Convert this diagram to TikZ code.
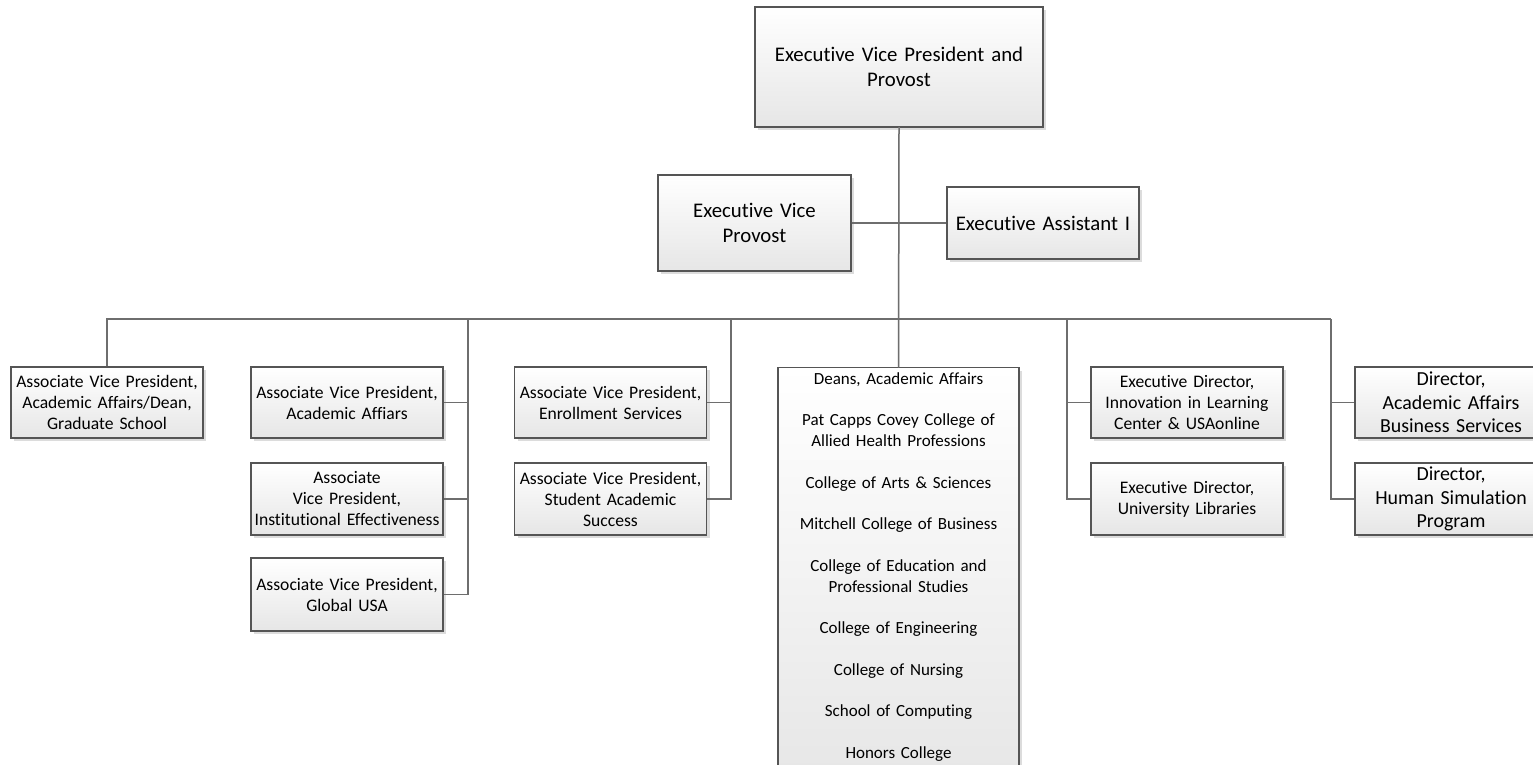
\documentclass[tikz,border=0pt]{standalone}
\usepackage{fontspec}
\setmainfont[Ligatures=NoCommon]{Carlito}
\usetikzlibrary{shadows}
\definecolor{bordc}{HTML}{555555}
\definecolor{linec}{HTML}{6E6E6E}
\definecolor{shadc}{HTML}{DCDCDC}
\definecolor{botc}{HTML}{E6E6E6}
\tikzset{
  box/.style={rectangle, draw=bordc, line width=1.2pt, top color=white, bottom color=botc,
    drop shadow={shadow xshift=3pt, shadow yshift=-3pt, fill=shadc, opacity=1},
    inner sep=2pt, align=center, minimum width=192pt, minimum height=71pt, text width=188pt,
    font=\fontsize{17.6}{21}\selectfont},
  bigtext/.style={font=\fontsize{20.8}{25}\selectfont},
  dirtext/.style={font=\fontsize{19.9}{23.5}\selectfont},
  conn/.style={draw=linec, line width=1.5pt},
  connshadow/.style={draw=shadc, line width=1.5pt}
}
\begin{document}
\begin{tikzpicture}[x=1pt,y=-1pt]
\useasboundingbox (0,0) rectangle (1533,765);
\clip (0,0) rectangle (1533,765);

% boxes
\node[box, bigtext, minimum width=288pt, minimum height=120pt, text width=282pt] (top) at (899,67) {Executive Vice President and\\Provost};
\node[box, bigtext, minimum width=193pt, minimum height=96pt] (evp) at (754.5,223) {Executive Vice\\Provost};
\node[box, bigtext, minimum height=72pt] (ea) at (1043,223) {Executive Assistant I};

\node[box] (b1) at (107,402.5) {Associate Vice President,\\Academic Affairs/Dean,\\Graduate School};
\node[box] (b2) at (347,402.5) {Associate Vice President,\\Academic Affiars};
\node[box, minimum height=72pt] (b3) at (347,499) {Associate\\Vice President,\\Institutional Effectiveness};
\node[box, minimum height=73pt] (b4) at (347,594.5) {Associate Vice President,\\Global USA};
\node[box] (b5) at (610.5,402.5) {Associate Vice President,\\Enrollment Services};
\node[box, minimum height=72pt] (b6) at (610.5,499) {Associate Vice President,\\Student Academic\\Success};

\node[box, anchor=north, inner sep=0pt, minimum width=241pt, text width=241pt,
      font=\fontsize{17}{20.8}\selectfont] (deans) at (898.5,367)
  {\begin{minipage}[t][420pt][t]{241pt}\centering
   \rule{0pt}{16.5pt}Deans, Academic Affairs\\[20.8pt]
   Pat Capps Covey College of\\Allied Health Professions\\[20.8pt]
   College of Arts \& Sciences\\[20.8pt]
   Mitchell College of Business\\[20.8pt]
   College of Education and\\Professional Studies\\[20.8pt]
   College of Engineering\\[20.8pt]
   College of Nursing\\[20.8pt]
   School of Computing\\[20.8pt]
   Honors College
   \end{minipage}};

\node[box] (b7) at (1187,402.5) {Executive Director,\\Innovation in Learning\\Center \& USAonline};
\node[box, minimum height=72pt] (b8) at (1187,499) {Executive Director,\\University Libraries};
\node[box, dirtext] (b9) at (1451,402.5) {Director,\\Academic Affairs\\Business Services};
\node[box, dirtext, minimum height=72pt] (b10) at (1451,499) {Director,\\Human Simulation\\Program};

% drop points on the bus
\coordinate (dA) at (468,319);
\coordinate (dB) at (731,319);
\coordinate (dC) at (1067,319);
\coordinate (dD) at (1331,319);

% connector shadows
\begin{scope}[xshift=3pt, yshift=-3pt]
\draw[connshadow] (top.south) -- (deans.north);
\draw[connshadow] (evp.east) -- (ea.west);
\draw[connshadow] (b1.north) |- (dD);
\draw[connshadow] (dA) |- (b4.east);
\draw[connshadow] (dA |- b2.east) -- (b2.east);
\draw[connshadow] (dA |- b3.east) -- (b3.east);
\draw[connshadow] (dB) |- (b6.east);
\draw[connshadow] (dB |- b5.east) -- (b5.east);
\draw[connshadow] (dC) |- (b8.west);
\draw[connshadow] (dC |- b7.west) -- (b7.west);
\draw[connshadow] (dD) |- (b10.west);
\draw[connshadow] (dD |- b9.west) -- (b9.west);
\end{scope}

% connectors
\draw[conn] (top.south) -- (deans.north);
\draw[conn] (evp.east) -- (ea.west);
\draw[conn] (b1.north) |- (dD);
\draw[conn] (dA) |- (b4.east);
\draw[conn] (dA |- b2.east) -- (b2.east);
\draw[conn] (dA |- b3.east) -- (b3.east);
\draw[conn] (dB) |- (b6.east);
\draw[conn] (dB |- b5.east) -- (b5.east);
\draw[conn] (dC) |- (b8.west);
\draw[conn] (dC |- b7.west) -- (b7.west);
\draw[conn] (dD) |- (b10.west);
\draw[conn] (dD |- b9.west) -- (b9.west);
\end{tikzpicture}
\end{document}
